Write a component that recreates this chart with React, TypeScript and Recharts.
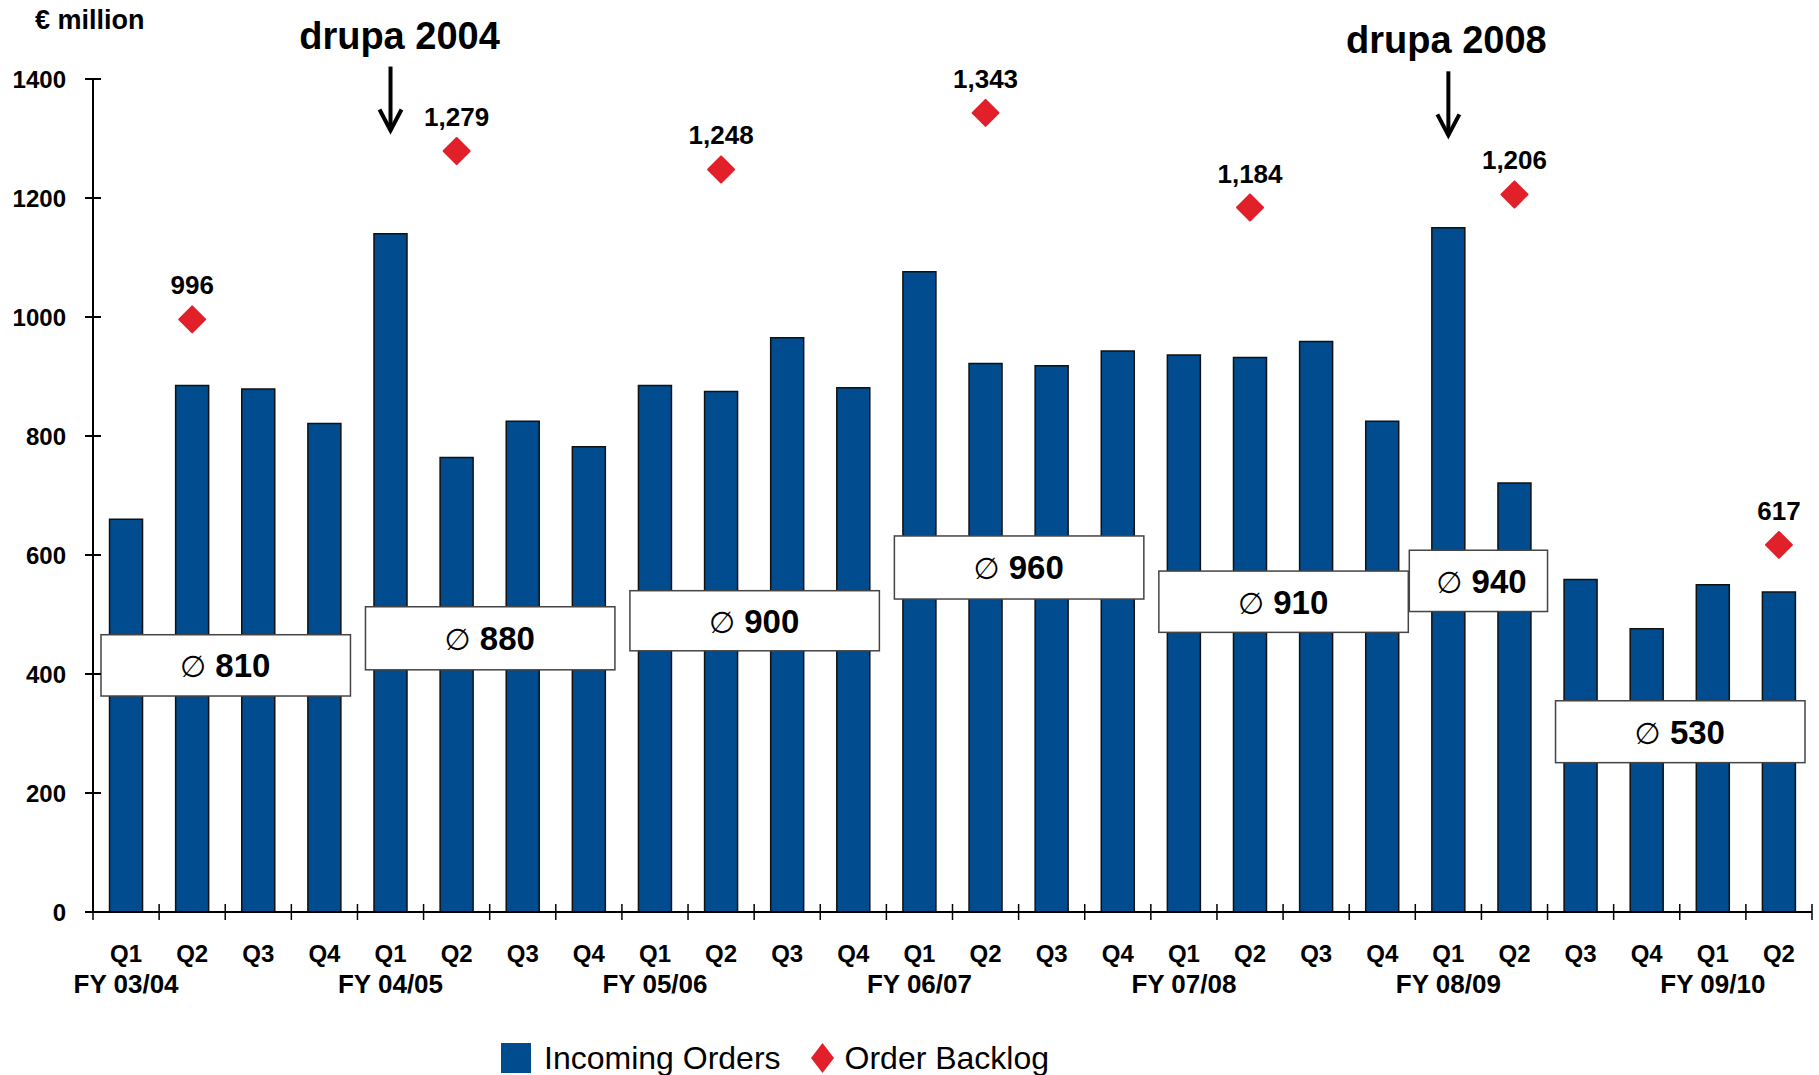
import React from 'react';
import {
  ComposedChart,
  Bar,
  Line,
  XAxis,
  YAxis,
  ReferenceArea,
  ReferenceDot,
  Legend,
  LabelList,
  Label,
} from 'recharts';

// Quarterly periods, fiscal year runs Q1..Q4
const periods = [
  'Q1 FY 03/04', 'Q2 FY 03/04', 'Q3 FY 03/04', 'Q4 FY 03/04',
  'Q1 FY 04/05', 'Q2 FY 04/05', 'Q3 FY 04/05', 'Q4 FY 04/05',
  'Q1 FY 05/06', 'Q2 FY 05/06', 'Q3 FY 05/06', 'Q4 FY 05/06',
  'Q1 FY 06/07', 'Q2 FY 06/07', 'Q3 FY 06/07', 'Q4 FY 06/07',
  'Q1 FY 07/08', 'Q2 FY 07/08', 'Q3 FY 07/08', 'Q4 FY 07/08',
  'Q1 FY 08/09', 'Q2 FY 08/09', 'Q3 FY 08/09', 'Q4 FY 08/09',
  'Q1 FY 09/10', 'Q2 FY 09/10',
];

// Incoming orders per quarter (€ million)
const incomingOrders = [
  660, 885, 879, 821,
  1140, 764, 825, 782,
  885, 875, 965, 881,
  1076, 922, 918, 943,
  936, 932, 959, 825,
  1150, 721, 559, 476,
  550, 538,
];

// Order backlog, reported at the end of each Q2 (€ million)
const orderBacklog: (number | null)[] = [
  null, 996, null, null,
  null, 1279, null, null,
  null, 1248, null, null,
  null, 1343, null, null,
  null, 1184, null, null,
  null, 1206, null, null,
  null, 617,
];

const yTicks = [0, 200, 400, 600, 800, 1000, 1200, 1400];

// Average incoming orders per period, boxed over the quarters they cover
const averageValues = [810, 880, 900, 960, 910, 940, 530];
const averageFrom = ['Q1 FY 03/04', 'Q1 FY 04/05', 'Q1 FY 05/06', 'Q1 FY 06/07', 'Q1 FY 07/08', 'Q1 FY 08/09', 'Q3 FY 08/09'];
const averageTo = ['Q4 FY 03/04', 'Q4 FY 04/05', 'Q4 FY 05/06', 'Q4 FY 06/07', 'Q4 FY 07/08', 'Q2 FY 08/09', 'Q2 FY 09/10'];
const averageBoxLow = [363, 407, 439, 526, 470, 505, 251];
const averageBoxHigh = [466, 513, 540, 632, 573, 608, 355];

// Trade fair markers
const fairNames = ['drupa 2004', 'drupa 2008'];
const fairPeriods = ['Q1 FY 04/05', 'Q1 FY 08/09'];
const fairArrowTip = [1310, 1302];

const data = periods.map((period, i) => ({
  period,
  orders: incomingOrders[i],
  backlog: orderBacklog[i],
}));

const FONT = '"Liberation Sans", Arial, Helvetica, sans-serif';
const BLUE = '#004C8F';
const RED = '#E2202A';
const Y_TICK_MARGIN = 27;
const X_TICK_MARGIN = 0;

const YTick = (props: any) => {
  const { x, y, payload } = props;
  const axisX = x + Y_TICK_MARGIN;
  return (
    <g>
      <line x1={axisX - 8} x2={axisX + 8} y1={y} y2={y} stroke="#000" strokeWidth={2} />
      <text x={x} y={y} dy="0.36em" textAnchor="end" fontFamily={FONT} fontWeight="bold" fontSize={24} fill="#000">
        {payload.value}
      </text>
    </g>
  );
};

const XTick = (props: any) => {
  const { x, y, payload, index, visibleTicksCount } = props;
  const axisY = y - X_TICK_MARGIN;
  const half = typeof payload.offset === 'number' && payload.offset > 0 ? payload.offset : 33;
  const parts = String(payload.value).split(' ');
  const quarter = parts[0];
  const fy = parts.slice(1).join(' ');
  const isLast = index === (visibleTicksCount ?? periods.length) - 1;
  return (
    <g>
      <line x1={x - half} x2={x - half} y1={axisY - 8} y2={axisY + 8} stroke="#000" strokeWidth={1.5} />
      {isLast && <line x1={x + half} x2={x + half} y1={axisY - 8} y2={axisY + 8} stroke="#000" strokeWidth={1.5} />}
      <text x={x} y={axisY + 50} textAnchor="middle" fontFamily={FONT} fontWeight="bold" fontSize={24} fill="#000">
        {quarter}
      </text>
      {quarter === 'Q1' && (
        <text x={x} y={axisY + 81} textAnchor="middle" fontFamily={FONT} fontWeight="bold" fontSize={26} fill="#000">
          {fy}
        </text>
      )}
    </g>
  );
};

const DiamondDot = (props: any) => {
  const { cx, cy, value } = props;
  if (value == null || typeof cy !== 'number' || isNaN(cy)) return <g />;
  const r = 13;
  return (
    <path
      d={`M${cx},${cy - r} L${cx + r},${cy} L${cx},${cy + r} L${cx - r},${cy} Z`}
      fill={RED}
      stroke={RED}
      strokeWidth={2}
      strokeLinejoin="round"
    />
  );
};

const BacklogLabel = (props: any) => {
  const { x, y, value } = props;
  if (value == null || typeof y !== 'number' || isNaN(y)) return null;
  return (
    <text x={x} y={y - 25} textAnchor="middle" fontFamily={FONT} fontWeight="bold" fontSize={26} fill="#000">
      {Number(value).toLocaleString('en-US')}
    </text>
  );
};

// White annotation box; a box over only two quarters sits slightly wider
const makeAverageBox = (left: number, right: number) => (props: any) => {
  const { x, y, width, height } = props;
  return (
    <rect
      x={x + left}
      y={y}
      width={width - left - right}
      height={height}
      fill="#fff"
      fillOpacity={1}
      stroke="#444"
      strokeWidth={1.5}
    />
  );
};

const makeAverageLabel = (value: number) => (props: any) => {
  const vb = props.viewBox || {};
  const cx = vb.x + vb.width / 2;
  const cy = vb.y + vb.height / 2;
  return (
    <text x={cx} y={cy} dy="0.36em" textAnchor="middle" fontFamily={FONT} fontSize={33} fill="#000">
      <tspan fontFamily='"DejaVu Sans", sans-serif' fontSize={30}>∅</tspan>
      <tspan fontWeight="bold"> {value}</tspan>
    </text>
  );
};

const makeFairMarker = (name: string, textShift: number) => (props: any) => {
  const { cx, cy } = props;
  return (
    <g>
      <line x1={cx} x2={cx} y1={cy - 66} y2={cy - 2} stroke="#000" strokeWidth={4} />
      <polyline
        points={`${cx - 11},${cy - 23} ${cx},${cy - 2} ${cx + 11},${cy - 23}`}
        fill="none"
        stroke="#000"
        strokeWidth={4}
      />
      <text x={cx + textShift} y={cy - 84} textAnchor="middle" fontFamily={FONT} fontWeight="bold" fontSize={38} fill="#000">
        {name}
      </text>
    </g>
  );
};

const UnitLabel = (props: any) => {
  const vb = props.viewBox || { x: 0, y: 0 };
  return (
    <text x={vb.x + 35} y={vb.y - 50} fontFamily={FONT} fontWeight="bold" fontSize={27} fill="#000">
      € million
    </text>
  );
};

const LegendContent = () => (
  <div style={{ display: 'flex', alignItems: 'center', fontFamily: FONT, fontSize: 32, color: '#000', height: 34 }}>
    <span style={{ display: 'inline-block', width: 30, height: 30, background: BLUE, marginRight: 13 }} />
    <span>Incoming Orders</span>
    <svg width={23} height={30} style={{ marginLeft: 30, marginRight: 11 }}>
      <path d="M11.5,0 L23,15 L11.5,30 L0,15 Z" fill={RED} />
    </svg>
    <span>Order Backlog</span>
  </div>
);

export default function App() {
  return (
    <div style={{ position: 'absolute', left: 0, top: 0, background: '#fff' }}>
      <ComposedChart
        width={1819}
        height={1075}
        data={data}
        margin={{ top: 79, right: 7, bottom: 0, left: 0 }}
        barCategoryGap="25%"
      >
        <XAxis
          dataKey="period"
          interval={0}
          height={129}
          tickLine={false}
          tickSize={0}
          tickMargin={X_TICK_MARGIN}
          axisLine={{ stroke: '#000', strokeWidth: 2 }}
          tick={<XTick />}
        />
        <YAxis
          width={93}
          domain={[0, 1400]}
          ticks={yTicks}
          tickLine={false}
          tickSize={0}
          tickMargin={Y_TICK_MARGIN}
          axisLine={{ stroke: '#000', strokeWidth: 2 }}
          tick={<YTick />}
          label={<Label content={<UnitLabel />} />}
        />
        <Legend
          verticalAlign="bottom"
          align="left"
          height={34}
          wrapperStyle={{ left: 501, bottom: 0, width: 760 }}
          content={() => <LegendContent />}
        />
        <Bar
          dataKey="orders"
          name="Incoming Orders"
          fill={BLUE}
          stroke="#111"
          strokeWidth={1.5}
          isAnimationActive={false}
        />
        {averageValues.map((v, i) => {
          const twoQuarters = averageFrom[i].slice(3) === averageTo[i].slice(3) && averageTo[i].startsWith('Q2');
          return (
            <ReferenceArea
              key={v + '-' + i}
              x1={averageFrom[i]}
              x2={averageTo[i]}
              y1={averageBoxLow[i]}
              y2={averageBoxHigh[i]}
              shape={twoQuarters ? makeAverageBox(-6, 0) : makeAverageBox(8, 7)}
              zIndex={1500}
              label={<Label content={makeAverageLabel(v)} zIndex={1600} />}
            />
          );
        })}
        <Line
          dataKey="backlog"
          name="Order Backlog"
          stroke="none"
          isAnimationActive={false}
          dot={<DiamondDot />}
          activeDot={false}
        >
          <LabelList dataKey="backlog" content={<BacklogLabel />} />
        </Line>
        {fairNames.map((name, i) => (
          <ReferenceDot
            key={name}
            x={fairPeriods[i]}
            y={fairArrowTip[i]}
            ifOverflow="visible"
            shape={makeFairMarker(name, i === 0 ? 9 : -2)}
          />
        ))}
      </ComposedChart>
    </div>
  );
}
